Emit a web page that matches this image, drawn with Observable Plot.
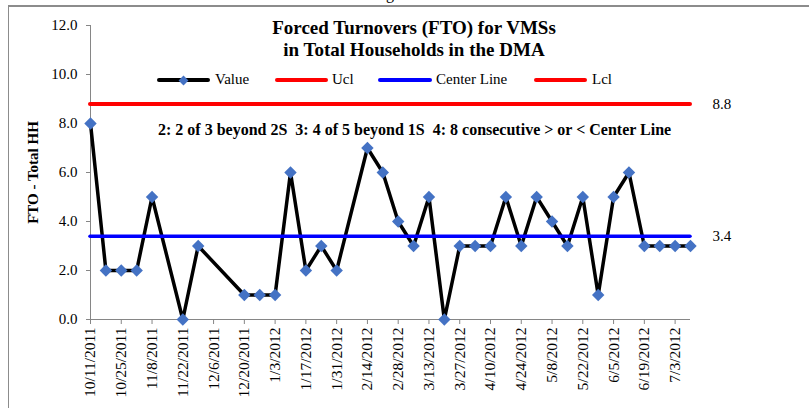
<!DOCTYPE html>
<html>
<head>
<meta charset="utf-8">
<script src="https://cdn.jsdelivr.net/npm/d3@7"></script>
<script src="https://cdn.jsdelivr.net/npm/@observablehq/plot@0.6"></script>
<style>
  html, body { margin: 0; padding: 0; background: #fff; }
  #wrap { position: relative; width: 809px; height: 408px; overflow: hidden; font-family: "Liberation Serif", "Times New Roman", serif; color: #000; }
  #wrap svg { white-space: pre; }
  .abs { position: absolute; white-space: pre; line-height: 1; }
  #border { position: absolute; left: 8px; top: 5px; width: 820px; height: 420px; border-left: 1px solid #8c8c8c; border-top: 2px solid #8c8c8c; }
  #plot { position: absolute; left: 0; top: 0; }
  .sw { position: absolute; height: 4px; border-radius: 2px; }
</style>
</head>
<body>
<div id="wrap">
  <div id="border"></div>
  <div id="plot"></div>
</div>
<script>
// ---- data ----
const dates = ["10/11/2011","10/18/2011","10/25/2011","11/1/2011","11/8/2011","11/22/2011","11/29/2011",
  "12/20/2011","12/27/2011","1/3/2012","1/10/2012","1/17/2012","1/24/2012","1/31/2012",
  "2/14/2012","2/21/2012","2/28/2012","3/6/2012","3/13/2012","3/20/2012","3/27/2012",
  "4/3/2012","4/10/2012","4/17/2012","4/24/2012","5/1/2012","5/8/2012","5/15/2012",
  "5/22/2012","5/29/2012","6/5/2012","6/12/2012","6/19/2012","6/26/2012","7/3/2012","7/10/2012"];
const values = [8,2,2,2,5,0,3,
  1,1,1,6,2,3,2,
  7,6,4,3,5,0,3,
  3,3,5,3,5,4,3,
  5,1,5,6,3,3,3,3];
const tickLabels = ["10/11/2011","10/25/2011","11/8/2011","11/22/2011","12/6/2011","12/20/2011","1/3/2012",
  "1/17/2012","1/31/2012","2/14/2012","2/28/2012","3/13/2012","3/27/2012","4/10/2012",
  "4/24/2012","5/8/2012","5/22/2012","6/5/2012","6/19/2012","7/3/2012"];
const yTicks = [0, 2, 4, 6, 8, 10, 12];
const uclValue = 8.8;
const centerValue = 3.4;
const legendLabels = ["Value", "Ucl", "Center Line", "Lcl"];
const titleLines = ["Forced Turnovers (FTO) for VMSs", "in Total Households in the DMA"];
const yTitle = "FTO - Total HH";
const ruleNote = "2: 2 of 3 beyond 2S  3: 4 of 5 beyond 1S  4: 8 consecutive > or < Center Line";

// ---- build ----
const parse = s => { const [m, d, y] = s.split("/").map(Number); return new Date(Date.UTC(y, m - 1, d)); };
const fmt = d => `${d.getUTCMonth() + 1}/${d.getUTCDate()}/${d.getUTCFullYear()}`;
const points = dates.map((s, i) => ({date: parse(s), value: values[i]}));
const first = points[0].date, last = points[points.length - 1].date;
const tickDates = tickLabels.map(parse);
const axisGrey = "#868686";
const FONT = "'Liberation Serif', 'Times New Roman', serif";

const chart = Plot.plot({
  width: 809, height: 408,
  marginLeft: 90, marginRight: 119, marginTop: 25, marginBottom: 89,
  x: {type: "utc", domain: [first, last]},
  y: {domain: [0, 12]},
  style: {fontFamily: FONT, fontSize: "15px", color: "#000", background: "transparent", overflow: "visible"},
  marks: [
    Plot.ruleX([first], {y1: 0, y2: 12, stroke: axisGrey, strokeWidth: 1}),
    Plot.ruleY([0], {x1: first, x2: last, stroke: axisGrey, strokeWidth: 1}),
    Plot.axisY({ticks: yTicks, tickFormat: d => d.toFixed(1), tickSize: 4, tickPadding: 9, stroke: axisGrey, fill: "#000", fontSize: 15, label: null}),
    Plot.axisX({ticks: tickDates, tickFormat: fmt, tickRotate: -90, tickSize: 5, tickPadding: 3, stroke: axisGrey, fill: "#000", fontSize: 15.5, label: null}),
    Plot.line(points, {x: "date", y: "value", stroke: "#000", strokeWidth: 3.5, strokeLinejoin: "round", strokeLinecap: "round"}),
    Plot.ruleY([uclValue], {x1: first, x2: last, stroke: "#ff0000", strokeWidth: 4, strokeLinecap: "round"}),
    Plot.ruleY([centerValue], {x1: first, x2: last, stroke: "#0000ff", strokeWidth: 3.5, strokeLinecap: "round"}),
    Plot.dot(points, {x: "date", y: "value", symbol: "diamond2", r: 5.6, fill: "#4472C4", stroke: "none"}),
    Plot.text([uclValue, centerValue], {x: () => last, y: d => d, text: d => d.toFixed(1), textAnchor: "start", dx: 22, fontSize: 15, fill: "#000"})
  ]
});
document.getElementById("plot").appendChild(chart);

const wrap = document.getElementById("wrap");
function addText(txt, css) {
  const el = document.createElement("div");
  el.className = "abs";
  el.textContent = txt;
  Object.assign(el.style, css);
  wrap.appendChild(el);
  return el;
}
// stray fragment at very top
addText("g", {left: "386px", top: "-14px", fontSize: "16px"});
// title
addText(titleLines.join("\n"), {left: "214px", width: "400px", top: "16.9px", textAlign: "center", fontSize: "19px", fontWeight: "bold", lineHeight: "22px"});
// rule note
addText(ruleNote, {left: "158px", top: "121.6px", fontSize: "16px", fontWeight: "bold"});
// y title
const yt = addText(yTitle, {left: "-67.5px", width: "200px", top: "164.5px", textAlign: "center", fontSize: "15px", fontWeight: "bold", transform: "rotate(-90deg)"});
// legend
const legend = [
  {label: legendLabels[0], color: "#000", x1: 157, x2: 210, tx: 215, marker: true},
  {label: legendLabels[1], color: "#ff0000", x1: 275, x2: 328, tx: 332},
  {label: legendLabels[2], color: "#0000ff", x1: 378, x2: 432, tx: 436},
  {label: legendLabels[3], color: "#ff0000", x1: 534, x2: 587, tx: 592}
];
legend.forEach(item => {
  const sw = document.createElement("div");
  sw.className = "sw";
  Object.assign(sw.style, {left: item.x1 + "px", width: (item.x2 - item.x1) + "px", top: "78px", background: item.color});
  wrap.appendChild(sw);
  if (item.marker) {
    const mk = document.createElement("div");
    Object.assign(mk.style, {position: "absolute", left: ((item.x1 + item.x2) / 2 - 3.5) + "px", top: "76.5px", width: "7px", height: "7px", background: "#4472C4", transform: "rotate(45deg)"});
    wrap.appendChild(mk);
  }
  addText(item.label, {left: item.tx + "px", top: "72.4px", fontSize: "15px"});
});
</script>
</body>
</html>
